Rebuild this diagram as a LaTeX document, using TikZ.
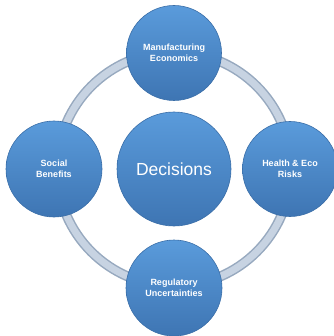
\documentclass[tikz,border=0pt]{standalone}
\usepackage{fontspec}
\setmainfont{Liberation Sans}
\begin{document}
\begin{tikzpicture}[x=1pt,y=-1pt,
  bubble/.style={circle, inner sep=0pt, text=white, align=center,
    top color=blubtop, bottom color=blubbot, draw=blubedge, line width=0.6pt,
    font=\fontsize{9}{10.5}\selectfont\bfseries},
  bigbubble/.style={bubble, font=\fontsize{17.5}{20}\selectfont}]
\definecolor{blubtop}{HTML}{5A9BDB}
\definecolor{blubbot}{HTML}{3E75B3}
\definecolor{blubedge}{HTML}{3A6EA8}
\definecolor{ringout}{HTML}{97A9BF}
\definecolor{ringin}{HTML}{C7D3E2}
\useasboundingbox (0,0) rectangle (333,336);
\coordinate (c) at (174,169);
\draw[ringout, line width=10pt] (c) circle[radius=117];
\draw[ringin, line width=7pt] (c) circle[radius=117];
\node[bigbubble, minimum size=114pt] (dec) at (174,169) {Decisions};
\node[bubble, minimum size=95pt] (man) at (174,53) {Manufacturing\\Economics};
\node[bubble, minimum size=96pt] (soc) at (54,169) {Social\\Benefits};
\node[bubble, minimum size=95pt] (hea) at (290,169) {Health \& Eco\\Risks};
\node[bubble, minimum size=96pt] (reg) at (174,288) {Regulatory\\Uncertainties};
\end{tikzpicture}
\end{document}
